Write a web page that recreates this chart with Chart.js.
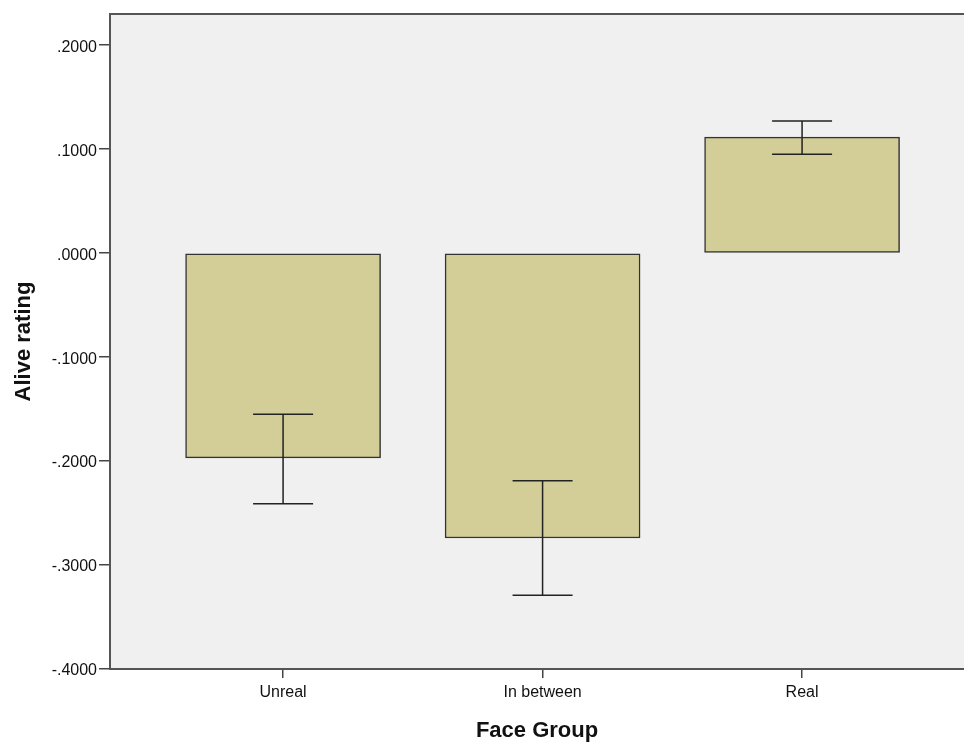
<!DOCTYPE html>
<html>
<head>
<meta charset="utf-8">
<script src="https://cdn.jsdelivr.net/npm/chart.js@4.4.1/dist/chart.umd.min.js"></script>
<style>
  html, body { margin: 0; padding: 0; background: #ffffff; }
  #wrap { width: 964px; height: 742px; position: relative; }
</style>
</head>
<body>
<div id="wrap"><canvas id="c"></canvas></div>
<script>
// Mean alive rating per face group, with error bar limits
const categories = ['Unreal', 'In between', 'Real'];
const positions = [1, 2, 3];
const meanRating = [-0.197, -0.274, 0.1115];
const errorLow = [-0.241, -0.329, 0.095];
const errorHigh = [-0.155, -0.219, 0.127];
const yTickValues = [-0.4, -0.3, -0.2, -0.1, 0.0, 0.1, 0.2];

const fmt = v => {
  const s = Math.abs(v).toFixed(4).replace(/^0/, '');
  return (v < -1e-9 ? '-' : '') + s;
};

const plotBackground = {
  id: 'plotBackground',
  beforeDraw(chart) {
    const { ctx, chartArea: a } = chart;
    ctx.save();
    ctx.fillStyle = '#f0f0f0';
    ctx.fillRect(a.left, a.top, a.right - a.left, a.bottom - a.top);
    ctx.restore();
  },
  afterDraw(chart) {
    const { ctx, chartArea: a } = chart;
    ctx.save();
    ctx.strokeStyle = '#555555';
    ctx.lineWidth = 2;
    ctx.beginPath();
    ctx.moveTo(a.left, a.top);
    ctx.lineTo(a.right, a.top);
    ctx.stroke();
    ctx.restore();
  }
};

const errorBars = {
  id: 'errorBars',
  afterDatasetsDraw(chart) {
    const { ctx, scales: { x, y } } = chart;
    ctx.save();
    ctx.strokeStyle = '#222222';
    ctx.lineWidth = 1.5;
    positions.forEach((p, i) => {
      const cx = x.getPixelForValue(p);
      const lo = y.getPixelForValue(errorLow[i]);
      const hi = y.getPixelForValue(errorHigh[i]);
      const half = 30;
      ctx.beginPath();
      ctx.moveTo(cx, lo); ctx.lineTo(cx, hi);
      ctx.moveTo(cx - half, lo); ctx.lineTo(cx + half, lo);
      ctx.moveTo(cx - half, hi); ctx.lineTo(cx + half, hi);
      ctx.stroke();
    });
    ctx.restore();
  }
};

new Chart(document.getElementById('c'), {
  type: 'bar',
  data: {
    datasets: [{
      data: positions.map((p, i) => ({ x: p, y: meanRating[i] })),
      backgroundColor: '#d3ce97',
      borderColor: '#333333',
      borderWidth: 1.5,
      borderSkipped: false,
      barThickness: 195
    }]
  },
  options: {
    responsive: true,
    maintainAspectRatio: false,
    animation: false,
    layout: { padding: { top: 14, right: 0, bottom: 0, left: 0 } },
    plugins: { legend: { display: false }, tooltip: { enabled: false } },
    scales: {
      x: {
        type: 'linear',
        offset: false,
        min: 0.333,
        max: 3.624,
        afterBuildTicks(scale) { scale.ticks = positions.map(v => ({ value: v })); },
        afterFit(scale) { scale.height = 73; },
        grid: { offset: false, drawOnChartArea: false, drawTicks: true, tickLength: 9, color: '#444444', lineWidth: 1.5 },
        border: { display: true, color: '#555555', width: 2 },
        ticks: {
          color: '#111111',
          font: { family: 'Liberation Sans, Arial', size: 16 },
          padding: 5,
          maxRotation: 0,
          autoSkip: false,
          callback: v => categories[positions.indexOf(v)] ?? ''
        },
        title: {
          display: true,
          text: 'Face Group',
          color: '#111111',
          font: { family: 'Liberation Sans, Arial', size: 22, weight: 'bold', lineHeight: 1.0 },
          padding: { top: 8, bottom: 0 }
        }
      },
      y: {
        min: -0.4,
        max: 0.23,
        afterBuildTicks(scale) { scale.ticks = yTickValues.map(v => ({ value: v })); },
        afterFit(scale) { scale.width = 110; },
        grid: { drawOnChartArea: false, drawTicks: true, tickLength: 11, color: '#444444', lineWidth: 1.5 },
        border: { display: true, color: '#555555', width: 2 },
        ticks: {
          color: '#111111',
          font: { family: 'Liberation Sans, Arial', size: 16 },
          padding: 2,
          labelOffset: 2,
          callback: v => fmt(v)
        },
        title: {
          display: true,
          text: 'Alive rating',
          color: '#111111',
          font: { family: 'Liberation Sans, Arial', size: 22, weight: 'bold' },
          padding: { top: 11, bottom: 0 }
        }
      }
    }
  },
  plugins: [plotBackground, errorBars]
});
</script>
</body>
</html>
